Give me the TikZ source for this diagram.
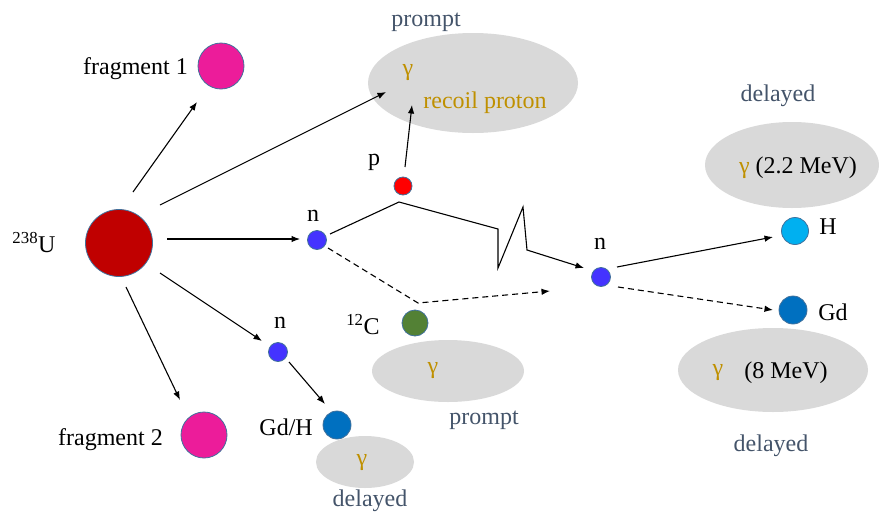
\documentclass[tikz,border=0pt]{standalone}
\usepackage{fontspec}
\setmainfont{Liberation Serif}
\usetikzlibrary{arrows.meta,calc,shapes.geometric}
\definecolor{slate}{HTML}{44546A}
\definecolor{gold}{HTML}{BF9000}
\definecolor{cloud}{HTML}{D9D9D9}
\definecolor{rim}{HTML}{41719C}
\definecolor{cU}{HTML}{C00000}
\definecolor{cfrag}{RGB}{236,28,154}
\definecolor{cn}{HTML}{4433FF}
\definecolor{cp}{HTML}{FF0000}
\definecolor{cC}{HTML}{538135}
\definecolor{cH}{HTML}{00B0F0}
\definecolor{cGd}{HTML}{0070C0}
\tikzset{
  txt/.style={font=\fontsize{24}{28}\selectfont, inner sep=0pt, yshift=-2.5pt},
  lab/.style={txt, text=slate},
  gam/.style={txt, text=gold},
  ball/.style={circle, draw=rim, line width=0.8pt, inner sep=0pt, minimum size=#1},
  ell/.style={ellipse, fill=cloud, draw=none, inner sep=0pt},
  arr/.style={line width=1.1pt, -{Latex[length=8.5pt,width=6.5pt]}},
  darr/.style={arr, dash pattern=on 6pt off 4pt},
}
\begin{document}
\begin{tikzpicture}[x=1pt,y=-1pt]
\useasboundingbox (0,0) rectangle (879,512);
% ellipses
\node[ell, minimum width=210pt, minimum height=100pt] (e1) at (473,83) {};
\node[ell, minimum width=152pt, minimum height=62pt] (e2) at (448,371) {};
\node[ell, minimum width=174pt, minimum height=86pt] (e3) at (792,165) {};
\node[ell, minimum width=190pt, minimum height=84pt] (e4) at (773,370) {};
\node[ell, minimum width=98pt, minimum height=52pt] (e5) at (365,462) {};
% balls
\node[ball=67pt, fill=cU] (u) at (119,243) {};
\node[ball=46pt, fill=cfrag] (f1) at (221,66) {};
\node[ball=46pt, fill=cfrag] (f2) at (204,435) {};
\node[ball=19pt, fill=cn] (n1) at (317,240) {};
\node[ball=19pt, fill=cn] (n2) at (601,277) {};
\node[ball=19pt, fill=cn] (n3) at (278,352) {};
\node[ball=18pt, fill=cp] (p) at (403,186) {};
\node[ball=26pt, fill=cC] (c12) at (415,323) {};
\node[ball=27pt, fill=cH] (h) at (795,231) {};
\node[ball=28pt, fill=cGd] (gd) at (793,310) {};
\node[ball=28pt, fill=cGd] (gdh) at (337,425) {};
% texts
\node[lab] (tprompt1) at (426,20) {prompt};
\node[gam] (tg1) at (408,70) {γ};
\node[gam] (trec) at (485,100) {recoil proton};
\node[txt, anchor=east] (tf1) at (188,66) {fragment 1};
\node[txt] (tU) at (34,240) {\textsuperscript{238}U};
\node[txt] (tn1) at (313,213) {n};
\node[txt] (tp) at (374,160) {p};
\node[txt] (tn2) at (600,241) {n};
\node[txt] (tn3) at (280,320) {n};
\node[txt] (tC) at (363,322) {\textsuperscript{12}C};
\node[gam] (tg2) at (433,368) {γ};
\node[lab] (tprompt2) at (484,418) {prompt};
\node[txt] (tH) at (828,224) {H};
\node[txt] (tGd) at (833,310) {Gd};
\node[lab] (tdel1) at (778,93) {delayed};
\node[txt] (tg3) at (798,165) {\textcolor{gold}{γ} (2.2 MeV)};
\node[gam] (tg4) at (718,370) {γ};
\node[txt] (t8) at (786,370) {(8 MeV)};
\node[lab] (tdel2) at (771,443) {delayed};
\node[txt, anchor=east] (tf2) at (163,437) {fragment 2};
\node[txt, anchor=east] (tgdh) at (313,425) {Gd/H};
\node[gam] (tg5) at (362,460) {γ};
\node[lab] (tdel3) at (370,498) {delayed};
% connectors
\draw[arr] ($(u)+(14,-51)$) -- ($(f1)+(-24,36)$);
\draw[arr] ($(u)+(41,-38)$) -- ($(e1)+(-87,9)$);
\draw[arr] ($(u)+(48,-4)$) -- ($(n1)+(-17,-1)$);
\draw[arr] ($(u)+(41,30)$) -- ($(n3)+(-16,-11)$);
\draw[arr] ($(u)+(7,44)$) -- ($(f2)+(-24,-35)$);
\draw[arr] ($(n3)+(11,10)$) -- ($(gdh)+(-12,-21)$);
\draw[arr] ($(p)+(2,-19)$) -- ($(e1)+(-61,22)$);
\draw[arr, line join=miter] ($(n1)+(13,-6)$) -- (399,202) -- (498,229) -- (498,268) -- (523,207) -- (527,250) -- ($(n2)+(-17,-9)$);
\coordinate (dk) at (418,303);
\draw[darr] ($(n1)+(11,8)$) -- (dk) -- ($(n2)+(-51,14)$);
\draw[arr] ($(n2)+(16,-10)$) -- ($(h)+(-22,6)$);
\draw[darr] ($(n2)+(17,10)$) -- ($(gd)+(-20,0)$);
\end{tikzpicture}
\end{document}
